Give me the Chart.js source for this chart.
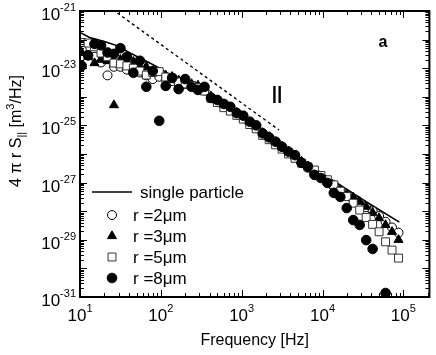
<!DOCTYPE html>
<html>
<head>
<meta charset="utf-8">
<script src="https://cdn.jsdelivr.net/npm/chart.js@4.4.1/dist/chart.umd.min.js"></script>
<style>
  body { margin: 0; background: #fff; }
</style>
</head>
<body>
<canvas id="myChart" width="436" height="355"></canvas>
<script>
// frequencies (Hz) shared by the four measured series
const freq = [10.5, 12.6, 15.1, 18.2, 21.9, 26.3, 31.6, 38.0, 45.7, 55.0,
    66.1, 79.4, 95.5, 115, 138, 166, 200, 240, 288, 347,
    417, 501, 603, 724, 871, 1047, 1259, 1514, 1820, 2188,
    2630, 3162, 3802, 4571, 5495, 6607, 7943, 9550, 11480, 13800,
    16600, 19950, 23990, 28840, 34670, 41690, 50120, 60260, 72440, 87100];

// log10 of 4 pi r S (m^3/Hz)
const r2Exp = [-22.35, -22.55, -22.6, -22.8, -23.25, -22.95, -22.95, -23.05, -23.05, -23.15,
    -23.25, -23.38, -23.3, -23.4, -23.45, -23.5, -23.55, -23.62, -23.68, -23.78,
    -24.02, -24.18, -24.32, -24.45, -24.6, -24.75, -24.92, -25.08, -25.3, -25.45,
    -25.62, -25.78, -25.95, -26.12, -26.3, -26.48, -26.65, -26.82, -26.95, -27.12,
    -27.28, -27.45, -27.6, -27.72, -27.86, -28.0, -28.17, -28.37, -28.57, -28.75];
const r3Exp = [-22.45, -22.6, -22.82, -22.7, -22.75, -24.29, -22.7, -22.8, -22.77, -22.95,
    -22.95, -23.1, -23.15, -23.25, -23.3, -23.42, -23.48, -23.55, -23.6, -23.7,
    -23.98, -24.12, -24.28, -24.4, -24.55, -24.68, -24.88, -25.03, -25.26, -25.4,
    -25.58, -25.73, -25.9, -26.08, -26.26, -26.43, -26.6, -26.78, -26.97, -27.12,
    -27.28, -27.42, -27.52, -27.67, -27.84, -28.05, -28.24, -28.48, -28.72, -29.0];
const r5Exp = [-22.1, -22.12, -22.25, -22.47, -22.6, -22.82, -22.85, -22.92, -23.0, -23.1,
    -23.24, -23.15, -23.12, -23.31, -23.35, -23.48, -23.55, -23.6, -23.68, -23.8,
    -24.05, -24.2, -24.38, -24.5, -24.65, -24.78, -24.97, -25.12, -25.35, -25.5,
    -25.68, -25.83, -26.0, -26.15, -26.32, -26.45, -26.56, -26.75, -26.9, -27.08,
    -27.3, -27.49, -27.72, -27.96, -28.22, -28.46, -28.72, -29.07, -29.36, -29.64];
const r8Exp = [-22.92, -22.55, -22.15, -22.2, -22.45, -22.5, -22.3, -22.6, -23.16, -22.74,
    -23.65, -23.1, -24.84, -23.62, -23.34, -23.73, -23.38, -23.65, -23.76, -23.65,
    -24.04, -24.11, -24.25, -24.35, -24.57, -24.66, -24.87, -25.0, -25.28, -25.42,
    -25.57, -25.75, -25.92, -26.04, -26.31, -26.45, -26.73, -26.84, -27.01, -27.36,
    -27.5, -27.89, -28.31, -28.48, -29.01, -29.32, null, -30.86, null, null];

// single particle curve
const lineFreq = [10, 13.5, 20, 29.5, 38.9, 51.3, 70.8, 95.5, 151, 295, 501, 1000, 3162, 10000, 31620, 89100];
const lineExp = [-21.75, -21.94, -22.07, -22.22, -22.42, -22.6, -22.8, -22.99, -23.35, -23.69, -24.1, -24.65, -25.72, -26.69, -27.6, -28.38];

// dashed f^-2 guide
const dashFreq = [29, 2900];
const dashVal = [8.5e-22, 6.9e-26];

const xDecades = [1, 2, 3, 4, 5];
const yLabelDecades = [-21, -23, -25, -27, -29, -31];
const legendLabels = ['single particle', 'r =2μm', 'r =3μm', 'r =5μm', 'r =8μm'];

const FONT = '"Liberation Sans", Arial, sans-serif';

function toPoints(xs, exps) {
    const pts = [];
    xs.forEach((f, i) => {
        if (exps[i] !== null) pts.push({ x: f, y: Math.pow(10, exps[i]) });
    });
    return pts;
}

function drawPow(ctx, exp, x, y, align) {
    ctx.font = '17px ' + FONT;
    const wb = ctx.measureText('10').width;
    ctx.font = '11px ' + FONT;
    const e = String(exp);
    const we = ctx.measureText(e).width;
    let x0 = align === 'right' ? x - wb - we : x - (wb + we) / 2;
    ctx.textAlign = 'left';
    ctx.textBaseline = 'alphabetic';
    ctx.font = '17px ' + FONT;
    ctx.fillText('10', x0, y);
    ctx.font = '11px ' + FONT;
    ctx.fillText(e, x0 + wb, y - 9);
}

const decor = {
    id: 'decor',
    beforeDraw(chart) {
        const c = chart.ctx;
        c.save();
        c.fillStyle = '#fff';
        c.fillRect(0, 0, chart.width, chart.height);
        c.restore();
    },
    afterDraw(chart) {
        const { ctx, chartArea: a, scales: { x, y } } = chart;
        ctx.save();
        ctx.strokeStyle = '#000';
        ctx.fillStyle = '#000';

        // ticks, inside on all four sides
        ctx.lineWidth = 1;
        ctx.beginPath();
        for (let e = 1; e <= 5; e++) {
            for (let m = 1; m <= 9; m++) {
                const v = m * Math.pow(10, e);
                if (v > x.max) break;
                const px = Math.round(x.getPixelForValue(v)) + 0.5;
                const len = m === 1 ? 7 : 4;
                ctx.moveTo(px, a.bottom); ctx.lineTo(px, a.bottom - len);
                ctx.moveTo(px, a.top); ctx.lineTo(px, a.top + len);
            }
        }
        for (let e = -31; e <= -22; e++) {
            for (let m = 1; m <= 9; m++) {
                const v = m * Math.pow(10, e);
                const py = Math.round(y.getPixelForValue(v)) + 0.5;
                const len = m === 1 ? 7 : 4;
                ctx.moveTo(a.left, py); ctx.lineTo(a.left + len, py);
                ctx.moveTo(a.right, py); ctx.lineTo(a.right - len, py);
            }
        }
        ctx.stroke();

        // frame
        ctx.lineWidth = 2;
        ctx.strokeRect(a.left, a.top, a.right - a.left, a.bottom - a.top);

        // tick labels
        xDecades.forEach(e => drawPow(ctx, e, x.getPixelForValue(Math.pow(10, e)), a.bottom + 24, 'center'));
        yLabelDecades.forEach(e => drawPow(ctx, e, 76, y.getPixelForValue(Math.pow(10, e)) + 9, 'right'));

        // x title
        ctx.font = '16px ' + FONT;
        ctx.textAlign = 'center';
        ctx.textBaseline = 'alphabetic';
        ctx.fillText('Frequency [Hz]', (a.left + a.right) / 2, 345);

        // y title, rotated, with sub/superscript
        const parts = [
            ['4 π r S', 16, 0], ['||', 11, 4], [' [m', 16, 0], ['3', 11, -7], ['/Hz]', 16, 0]
        ];
        let total = 0;
        parts.forEach(p => { ctx.font = p[1] + 'px ' + FONT; p.push(ctx.measureText(p[0]).width); total += p[3]; });
        ctx.save();
        ctx.translate(20.5, 131);
        ctx.rotate(-Math.PI / 2);
        ctx.textAlign = 'left';
        let tx = -total / 2;
        parts.forEach(p => {
            ctx.font = p[1] + 'px ' + FONT;
            ctx.fillText(p[0], tx, p[2]);
            tx += p[3];
        });
        ctx.restore();

        // panel letter and parallel mark
        ctx.font = 'bold 16px ' + FONT;
        ctx.textAlign = 'center';
        ctx.fillText('a', 383, 47);
        ctx.font = 'bold 19px ' + FONT;
        ctx.fillText('||', 277, 99);

        // legend
        ctx.lineWidth = 1.6;
        ctx.beginPath();
        ctx.moveTo(92, 192); ctx.lineTo(132, 192);
        ctx.stroke();
        ctx.font = '17px ' + FONT;
        ctx.textAlign = 'left';
        ctx.textBaseline = 'middle';
        ctx.fillText(legendLabels[0], 140, 193);
        const marks = chart.data.datasets.slice(2);
        marks.forEach((ds, i) => {
            const ly = 215 + i * 21;
            ctx.fillStyle = ds.backgroundColor;
            ctx.strokeStyle = ds.borderColor;
            ctx.lineWidth = ds.borderWidth;
            Chart.helpers.drawPoint(ctx, { pointStyle: ds.pointStyle, radius: ds.pointRadius, borderWidth: ds.borderWidth, rotation: 0 }, 112, ly);
            ctx.fillStyle = '#000';
            ctx.fillText(legendLabels[i + 1], 133, ly + 1);
        });
        ctx.restore();
    }
};

const ctx = document.getElementById('myChart');

let myChart = new Chart(ctx, {
    type: 'scatter',
    data: {
        datasets: [{
            label: 'single particle',
            data: toPoints(lineFreq, lineExp),
            showLine: true,
            borderColor: '#000',
            borderWidth: 1.6,
            pointRadius: 0,
            order: 5
        }, {
            label: 'slope -2',
            data: dashFreq.map((f, i) => ({ x: f, y: dashVal[i] })),
            showLine: true,
            borderColor: '#000',
            borderWidth: 1.4,
            borderDash: [3, 3],
            pointRadius: 0,
            order: 6
        }, {
            label: 'r =2μm',
            data: toPoints(freq, r2Exp),
            pointStyle: 'circle',
            pointRadius: 4.5,
            backgroundColor: '#fff',
            borderColor: '#000',
            borderWidth: 1,
            order: 3
        }, {
            label: 'r =3μm',
            data: toPoints(freq, r3Exp),
            pointStyle: 'triangle',
            pointRadius: 5.2,
            backgroundColor: '#000',
            borderColor: '#000',
            borderWidth: 1,
            order: 2
        }, {
            label: 'r =5μm',
            data: toPoints(freq, r5Exp),
            pointStyle: 'rect',
            pointRadius: 5.6,
            backgroundColor: '#fff',
            borderColor: '#333',
            borderWidth: 1,
            order: 1
        }, {
            label: 'r =8μm',
            data: toPoints(freq, r8Exp),
            pointStyle: 'circle',
            pointRadius: 4.8,
            backgroundColor: '#000',
            borderColor: '#000',
            borderWidth: 1,
            order: 0
        }]
    },
    options: {
        responsive: false,
        animation: false,
        layout: { padding: { left: 80, right: 3, top: 11, bottom: 58 } },
        scales: {
            x: { type: 'logarithmic', min: 10, max: 2.1e5, display: false },
            y: { type: 'logarithmic', min: 1e-31, max: 1e-21, display: false }
        },
        plugins: {
            legend: { display: false },
            tooltip: { enabled: false }
        }
    },
    plugins: [decor]
});
</script>
</body>
</html>
